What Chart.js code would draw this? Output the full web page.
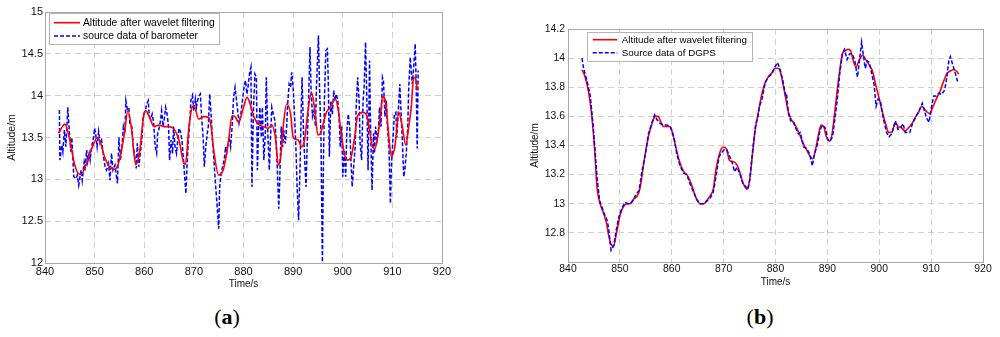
<!DOCTYPE html>
<html><head><meta charset="utf-8">
<script src="https://cdn.jsdelivr.net/npm/chart.js@4.4.0/dist/chart.umd.min.js"></script>
<style>
html,body{margin:0;padding:0;background:#fff;width:1000px;height:337px;overflow:hidden;}
#ca{position:absolute;left:0;top:0;}
#cb{position:absolute;left:515px;top:0;}
.lab{position:absolute;top:304px;font-family:'Liberation Serif','Times New Roman',serif;font-size:22px;color:#000;transform:translateX(-50%);white-space:nowrap;}
</style></head><body>
<canvas id="ca" width="465" height="300"></canvas>
<canvas id="cb" width="485" height="300"></canvas>
<div class="lab" style="left:227px">(<b>a</b>)</div>
<div class="lab" style="left:760px">(<b>b</b>)</div>
<script>
// ---------- (a) barometer ----------
const xTicks = [840, 850, 860, 870, 880, 890, 900, 910, 920];
const yTicksA = [12, 12.5, 13, 13.5, 14, 14.5, 15];
const yTicksB = [12.8, 13, 13.2, 13.4, 13.6, 13.8, 14, 14.2];
const labelFilt = 'Altitude after wavelet filtering';
const labelBaro = 'source data of barometer';
const labelDgps = 'Source data of DGPS';

const filtA_T = [842.7,843.5,844,845,846,847,847.5,848,849,850,850.5,851,852,853,854,855,856,856.7,857.5,858,858.3,859,860,860.3,861,862,863,864,865,866,867,868,868.3,869,869.7,870,871,872,873,873.5,874,875,876,877,877.7,878.3,879,880,880.7,881.5,882,883,884,885,885.7,886.5,887,887.5,888,888.7,889.5,890,891,891.7,892.3,893,893.7,894.3,895,895.5,896,896.7,897.5,898.5,899,899.7,900.3,901,901.7,902.5,903,904,904.7,905.3,906,906.5,907,907.7,908,908.7,909.3,909.8,910.5,911.3,912,912.7,913.3,913.8,914.3,914.7,915];
const filtA_V = [13.55,13.63,13.66,13.47,13.17,13.06,13.07,13.13,13.30,13.45,13.5,13.47,13.27,13.15,13.12,13.23,13.55,13.82,13.57,13.27,13.18,13.3,13.8,13.82,13.75,13.63,13.65,13.63,13.63,13.6,13.47,13.19,13.18,13.63,13.87,13.88,13.72,13.75,13.74,13.62,13.35,13.05,13.13,13.47,13.76,13.75,13.68,13.86,13.98,13.87,13.76,13.66,13.63,13.61,13.65,13.47,13.17,13.27,13.63,13.9,13.78,13.5,13.47,13.39,13.47,13.82,14.04,13.86,13.53,13.55,13.65,13.8,13.86,13.96,13.86,13.55,13.31,13.23,13.27,13.55,13.76,13.8,13.78,13.63,13.39,13.37,13.49,13.82,13.99,13.9,13.5,13.27,13.39,13.8,13.63,13.41,13.63,13.86,14.22,14.2,14.07];

const baroT = [842.9,843.0,843.4,843.6,843.9,844.2,844.6,844.9,845.2,845.4,845.6,845.8,846.3,846.5,846.8,847.1,847.3,847.5,847.9,848.1,848.4,848.6,848.9,849.1,849.4,849.7,850.0,850.2,850.5,850.8,851.1,851.4,851.8,852.1,852.4,852.8,853.1,853.4,853.7,854.1,854.6,854.9,855.2,855.5,855.8,856.1,856.3,856.6,856.9,857.1,857.5,857.8,858.2,858.4,858.6,858.9,859.2,859.5,859.8,860.2,860.5,860.8,861.0,861.3,861.6,861.9,862.2,862.5,862.7,863.0,863.3,863.5,863.8,864.1,864.3,864.6,864.9,865.1,865.4,865.7,865.9,866.2,866.5,866.8,867.0,867.3,867.6,867.8,868.1,868.4,868.6,868.9,869.2,869.4,869.7,870.0,870.3,870.5,870.8,871.1,871.3,871.6,871.9,872.1,872.4,872.7,872.9,873.2,873.5,873.7,874.0,874.3,874.6,875.0,875.2,875.5,875.8,876.1,876.4,876.6,876.9,877.2,877.4,877.7,878.0,878.3,878.6,878.9,879.1,879.4,879.7,880.1,880.4,880.7,880.9,881.2,881.5,881.7,882.0,882.3,882.6,882.8,883.0,883.3,883.6,883.8,884.1,884.4,884.6,884.9,885.2,885.4,885.7,886.0,886.3,886.5,886.8,887.1,887.3,887.6,887.9,888.1,888.4,888.7,888.9,889.2,889.5,889.7,890.0,890.3,890.6,890.8,891.1,891.4,891.6,891.8,892.1,892.4,892.6,892.9,893.2,893.4,893.6,893.9,894.2,894.5,894.7,895.1,895.3,895.6,895.9,896.1,896.3,896.6,896.9,897.1,897.3,897.6,897.9,898.2,898.4,898.7,899.0,899.2,899.5,899.8,900.0,900.3,900.6,900.8,901.1,901.4,901.6,901.9,902.2,902.5,902.7,903.0,903.3,903.5,903.8,904.1,904.3,904.6,904.9,905.1,905.4,905.6,905.9,906.2,906.4,906.6,906.9,907.2,907.4,907.7,908.0,908.2,908.5,908.8,909.0,909.3,909.6,909.8,910.1,910.4,910.7,910.9,911.2,911.5,911.7,912.0,912.3,912.5,912.8,913.1,913.3,913.6,913.8,914.0,914.3,914.6,914.8,915.0,915.2];
const baroV = [13.83,13.23,13.41,13.33,13.59,13.39,13.86,13.57,13.33,13.5,13.27,13.03,13.01,13.05,12.93,13.05,13.11,12.99,13.21,13.15,13.35,13.21,13.31,13.23,13.39,13.47,13.61,13.55,13.39,13.57,13.43,13.47,13.27,13.15,13.11,13.19,12.99,13.31,13.11,13.17,12.95,13.5,13.23,13.39,13.63,13.55,13.94,13.84,13.86,13.67,13.63,13.39,13.23,13.13,13.43,13.15,13.31,13.47,13.75,13.82,13.9,13.94,13.76,13.72,13.78,13.67,13.39,13.31,13.55,13.61,13.71,13.82,13.63,13.75,13.86,13.78,13.63,13.23,13.47,13.31,13.63,13.39,13.31,13.5,13.61,13.57,13.47,13.31,13.07,12.83,13.15,13.47,13.71,13.94,14.0,13.82,13.96,13.86,13.96,14.0,14.02,13.71,13.47,13.15,13.39,13.55,13.63,14.02,13.75,13.5,13.27,12.99,12.75,12.41,12.91,13.07,13.15,13.23,13.39,13.31,13.43,13.47,13.39,13.63,13.98,14.1,13.94,13.78,13.67,13.75,13.9,14.1,14.18,14.02,14.1,14.26,14.34,12.91,13.82,14.26,14.22,13.11,13.55,13.86,13.5,13.86,13.23,13.55,14.22,13.55,13.11,13.43,13.86,13.78,13.71,13.55,13.15,12.65,12.99,13.63,13.39,13.59,13.43,13.63,13.9,14.14,14.1,14.28,14.1,13.75,13.31,12.91,12.51,13.15,13.75,14.22,13.55,13.15,12.91,13.55,14.14,14.58,14.1,13.75,13.82,13.63,14.1,14.72,14.14,13.55,12.01,13.15,13.94,14.54,14.56,14.14,13.27,13.94,13.78,14.06,13.94,14.02,13.94,13.82,13.39,13.63,13.03,13.35,13.03,13.55,13.78,13.63,13.31,12.91,13.15,13.39,13.86,14.22,13.94,13.43,13.23,13.94,14.1,14.64,13.82,13.11,14.42,13.63,12.87,13.55,13.31,13.63,13.47,13.59,13.86,13.63,14.22,14.18,13.75,13.94,13.63,13.39,12.71,13.15,13.47,13.78,13.8,13.5,13.82,14.14,13.86,13.47,13.03,13.11,13.31,13.63,14.1,14.46,14.3,14.14,14.34,14.62,14.14,13.37,14.3];

// ---------- (b) DGPS ----------
const filtB_T = [842.7,843.3,844.0,844.6,845.1,845.6,846.2,846.9,847.4,847.8,848.3,848.8,849.3,850.1,850.7,851.4,852.0,852.6,853.3,853.9,854.7,855.5,856.2,856.8,857.4,857.9,858.4,859.1,859.7,860.2,860.9,861.6,862.3,862.9,863.5,864.2,864.8,865.5,866.2,866.9,867.5,868.0,868.5,869.1,869.6,870.1,870.6,871.1,871.6,872.3,872.9,873.4,873.9,874.5,875.0,875.5,876.1,876.7,877.3,878.0,878.6,879.3,879.9,880.4,880.9,881.4,881.9,882.4,882.9,883.4,884.1,884.7,885.4,886.0,886.6,887.2,887.7,888.2,888.8,889.3,889.8,890.4,890.9,891.4,891.9,892.4,892.9,893.4,894.0,894.5,895.0,895.5,896.2,896.8,897.4,898.1,898.7,899.3,900.0,900.6,901.3,901.8,902.4,903.1,903.7,904.3,905.0,905.6,906.3,906.9,907.6,908.2,908.7,909.2,909.7,910.4,911.0,911.7,912.3,913.0,913.6,914.3,914.9,915.3];
const filtB_V = [13.92,13.87,13.76,13.60,13.39,13.11,13.0,12.93,12.87,12.79,12.72,12.71,12.79,12.93,12.98,13.0,13.0,13.03,13.05,13.11,13.30,13.46,13.55,13.60,13.60,13.56,13.53,13.53,13.53,13.48,13.37,13.28,13.22,13.2,13.16,13.09,13.03,13.0,13.0,13.03,13.06,13.10,13.23,13.33,13.38,13.39,13.37,13.30,13.29,13.28,13.24,13.18,13.13,13.10,13.16,13.32,13.51,13.63,13.74,13.83,13.87,13.90,13.93,13.93,13.91,13.83,13.74,13.64,13.59,13.56,13.52,13.47,13.41,13.37,13.33,13.31,13.37,13.46,13.54,13.53,13.46,13.43,13.48,13.62,13.78,13.92,14.03,14.05,14.06,14.05,13.98,13.94,13.99,14.02,13.99,13.95,13.91,13.82,13.72,13.63,13.54,13.49,13.49,13.55,13.53,13.52,13.50,13.52,13.55,13.59,13.63,13.67,13.65,13.63,13.62,13.67,13.72,13.77,13.83,13.89,13.91,13.92,13.91,13.89];

const dgpsT = [842.7,843.0,843.7,844.3,844.9,845.6,846.1,846.6,847.1,847.5,847.8,848.3,848.8,849.3,849.8,850.4,851.0,851.5,852.0,852.5,853.2,853.7,854.2,854.9,855.5,856.2,856.7,857.1,857.8,858.4,859.1,859.7,860.4,861.0,861.6,862.3,862.9,863.5,864.2,864.8,865.5,866.2,866.8,867.4,868.0,868.5,869.1,869.6,870.1,870.6,871.1,871.6,872.1,872.6,873.1,873.7,874.2,874.7,875.1,875.6,876.2,876.6,876.9,877.4,878.0,878.6,879.3,879.9,880.4,880.9,881.4,881.9,882.1,882.5,882.9,883.4,883.9,884.4,884.8,885.4,886.0,886.6,887.1,887.5,888.1,888.6,889.1,889.6,890.1,890.5,891.0,891.4,891.9,892.4,892.9,893.3,893.8,894.3,894.8,895.3,895.8,896.3,896.6,896.9,897.3,897.7,898.1,898.5,899.0,899.4,899.8,900.2,900.7,901.4,901.9,902.4,903.1,903.6,904.1,904.6,905.0,905.5,905.9,906.4,907.1,907.7,908.3,908.7,909.1,909.6,910.1,910.5,911.0,911.5,912.0,912.6,913.0,913.4,913.7,914.2,914.7,915.1];
const dgpsV = [14.0,13.93,13.84,13.74,13.51,13.18,13.02,12.97,12.92,12.89,12.84,12.68,12.71,12.82,12.91,12.97,13.01,13.0,13.0,13.02,13.07,13.09,13.21,13.34,13.48,13.56,13.61,13.58,13.55,13.54,13.54,13.53,13.46,13.34,13.26,13.21,13.2,13.14,13.08,13.03,13.0,13.0,13.02,13.04,13.08,13.18,13.32,13.35,13.37,13.37,13.33,13.29,13.22,13.25,13.21,13.14,13.12,13.10,13.18,13.37,13.55,13.59,13.67,13.72,13.83,13.87,13.89,13.94,13.97,13.92,13.85,13.75,13.76,13.62,13.57,13.57,13.52,13.48,13.49,13.39,13.38,13.34,13.26,13.34,13.41,13.51,13.54,13.52,13.44,13.43,13.46,13.57,13.71,13.9,14.03,14.06,13.99,14.03,14.03,13.98,13.87,14.02,14.11,14.03,13.93,13.98,13.97,13.9,13.82,13.67,13.72,13.71,13.60,13.49,13.46,13.48,13.57,13.51,13.52,13.55,13.49,13.49,13.49,13.55,13.6,13.64,13.69,13.64,13.59,13.56,13.67,13.74,13.74,13.76,13.75,13.78,13.86,13.98,14.01,13.95,13.89,13.84];

function pts(T, V) {
  const n = Math.min(T.length, V.length), out = [];
  for (let i = 0; i < n; i++) out.push({x: T[i], y: V[i]});
  return out;
}

const FONT = "'Liberation Sans', Arial, sans-serif";
const RED = '#ff0000', BLUE = '#0000ff';

const frameLegend = {
  id: 'frameLegend',
  afterDatasetsDraw(chart, args, o) {
    const ctx = chart.ctx, a = chart.chartArea;
    ctx.save();
    ctx.strokeStyle = '#a8a8a8';
    ctx.lineWidth = 1;
    ctx.setLineDash([]);
    ctx.strokeRect(Math.round(a.left) + 0.5, Math.round(a.top) + 0.5,
                   Math.round(a.right - a.left), Math.round(a.bottom - a.top));
    const x0 = Math.round(a.left + o.dx), y0 = Math.round(a.top + o.dy);
    ctx.fillStyle = '#fff';
    ctx.fillRect(x0, y0, o.w, o.h);
    ctx.strokeStyle = '#b4b4b4';
    ctx.strokeRect(x0 + 0.5, y0 + 0.5, o.w, o.h);
    o.items.forEach((idx, i) => {
      const ds = chart.data.datasets[idx];
      const y = y0 + o.row0 + i * o.gap;
      ctx.strokeStyle = ds.borderColor;
      ctx.lineWidth = ds.borderWidth;
      ctx.setLineDash(ds.borderDash || []);
      ctx.beginPath();
      ctx.moveTo(x0 + o.lx0, y);
      ctx.lineTo(x0 + o.lx1, y);
      ctx.stroke();
      ctx.setLineDash([]);
      ctx.fillStyle = '#000';
      ctx.font = o.font + 'px ' + FONT;
      ctx.textBaseline = 'middle';
      ctx.textAlign = 'left';
      ctx.fillText(ds.label, x0 + o.tx, y + 0.5);
    });
    ctx.restore();
  }
};

function makeOptions(cfg) {
  return {
    responsive: false,
    animation: false,
    events: [],
    layout: {padding: cfg.pad},
    plugins: {
      legend: {display: false},
      tooltip: {enabled: false},
      frameLegend: cfg.legend
    },
    scales: {
      x: {
        type: 'linear', min: 840, max: 920,
        afterBuildTicks: s => { s.ticks = xTicks.map(v => ({value: v})); },
        afterFit: s => { s.height = cfg.xh; },
        ticks: {font: {size: cfg.tick, family: FONT}, color: '#111', padding: cfg.xpad, maxRotation: 0, autoSkip: false},
        grid: {color: '#cfcfcf', drawTicks: false, lineWidth: 1},
        border: {display: false, dash: [6, 4]},
        title: {display: true, text: 'Time/s', font: {size: 10, family: FONT}, color: '#111', padding: {top: 0, bottom: 0}}
      },
      y: {
        type: 'linear', min: cfg.ymin, max: cfg.ymax,
        afterBuildTicks: s => { s.ticks = cfg.yticks.map(v => ({value: v})); },
        afterFit: s => { s.width = cfg.yw; },
        ticks: {font: {size: cfg.tick, family: FONT}, color: '#111', padding: cfg.ypad, autoSkip: false,
                callback: v => String(Math.round(v * 10) / 10)},
        grid: {color: '#cfcfcf', drawTicks: false, lineWidth: 1},
        border: {display: false, dash: [6, 4]},
        title: {display: true, text: 'Altitude/m', font: {size: cfg.ytitle, family: FONT}, color: '#111', padding: {top: 0, bottom: 0}}
      }
    }
  };
}

new Chart(document.getElementById('ca'), {
  type: 'line',
  data: {datasets: [
    {label: labelFilt, data: pts(filtA_T, filtA_V), borderColor: RED, borderWidth: 1.6,
     pointRadius: 0, cubicInterpolationMode: 'monotone', fill: false},
    {label: labelBaro, data: pts(baroT, baroV), borderColor: BLUE, borderWidth: 1.5,
     borderDash: [4, 2], pointRadius: 0, tension: 0, fill: false}
  ]},
  options: makeOptions({
    pad: {left: 6, top: 12, right: 23, bottom: 10},
    xh: 27, yw: 39, tick: 11, xpad: 2, ypad: 2, ytitle: 10.5,
    ymin: 12, ymax: 15, yticks: yTicksA,
    legend: {dx: 4, dy: 1, w: 170, h: 31, lx0: 5, lx1: 31, tx: 34, row0: 9.7, gap: 13.3, font: 10.3, items: [0, 1]}
  }),
  plugins: [frameLegend]
});

new Chart(document.getElementById('cb'), {
  type: 'line',
  data: {datasets: [
    {label: labelFilt, data: pts(filtB_T, filtB_V), borderColor: RED, borderWidth: 1.6, order: 1,
     pointRadius: 0, cubicInterpolationMode: 'monotone', fill: false},
    {label: labelDgps, data: pts(dgpsT, dgpsV), borderColor: BLUE, borderWidth: 1.5, order: 0,
     borderDash: [4, 2], pointRadius: 0, tension: 0, fill: false}
  ]},
  options: makeOptions({
    pad: {left: 14, top: 29, right: 17, bottom: 12},
    xh: 26, yw: 39, tick: 10.4, xpad: 1, ypad: 3, ytitle: 10,
    ymin: 12.6, ymax: 14.2, yticks: yTicksB,
    legend: {dx: 19, dy: 3, w: 165, h: 29, lx0: 5.7, lx1: 30.3, tx: 34.7, row0: 7.7, gap: 13, font: 9.8, items: [0, 1]}
  }),
  plugins: [frameLegend]
});
</script>
</body></html>
